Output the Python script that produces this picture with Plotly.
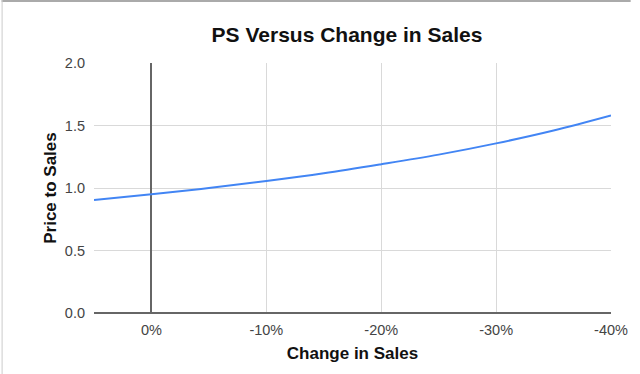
import plotly.graph_objects as go

change_pct = [5, 0, -5, -10, -15, -20, -25, -30, -35, -40]
price_to_sales = [0.905, 0.95, 1.0, 1.056, 1.118, 1.19, 1.267, 1.357, 1.46, 1.58]
x_ticks = [0, -10, -20, -30, -40]
y_ticks = [0.0, 0.5, 1.0, 1.5, 2.0]

fig = go.Figure()
fig.add_trace(go.Scatter(
    x=change_pct, y=price_to_sales, mode="lines",
    line=dict(color="#4285F4", width=2, shape="spline"),
    hoverinfo="skip", showlegend=False,
))

fig.update_layout(
    width=640, height=374,
    margin=dict(l=94, r=20, t=63, b=61),
    paper_bgcolor="white", plot_bgcolor="white",
    font=dict(family="Liberation Sans", color="#444", size=14.5),
    title=dict(text="<b>PS Versus Change in Sales</b>", x=347/640, xanchor="center",
               y=1 - 35/374, yanchor="middle",
               font=dict(family="Liberation Sans", size=21, color="#111")),
    xaxis=dict(
        range=[5, -40], tickvals=x_ticks, ticktext=[f"{v}%" for v in x_ticks],
        showgrid=True, gridcolor="#d9d9d9", gridwidth=1,
        zeroline=True, zerolinecolor="#666", zerolinewidth=1.5,
        showline=False, ticks="", ticklen=0, ticklabelstandoff=6,
        title=dict(text="<b>Change in Sales</b>",
                   font=dict(family="Liberation Sans", size=17, color="#111"), standoff=10),
    ),
    yaxis=dict(
        range=[0, 2.0], tickvals=y_ticks, ticktext=[f"{v:.1f}" for v in y_ticks],
        showgrid=True, gridcolor="#d9d9d9", gridwidth=1,
        zeroline=True, zerolinecolor="#666", zerolinewidth=1.5,
        showline=False, ticks="", ticklen=0, ticklabelstandoff=8,
        title=dict(text="<b>Price to Sales</b>",
                   font=dict(family="Liberation Sans", size=17, color="#111"), standoff=3),
    ),
)

# screenshot frame edges
fig.add_shape(type="line", xref="paper", yref="paper",
              x0=-94/526, x1=(640-94)/526, y0=(374-61-1)/250, y1=(374-61-1)/250,
              line=dict(color="#aaa", width=2))
fig.add_shape(type="line", xref="paper", yref="paper",
              x0=-93.5/526, x1=-93.5/526, y0=-61/250, y1=313/250,
              line=dict(color="#ccc", width=1))

fig.write_html("out.html")
